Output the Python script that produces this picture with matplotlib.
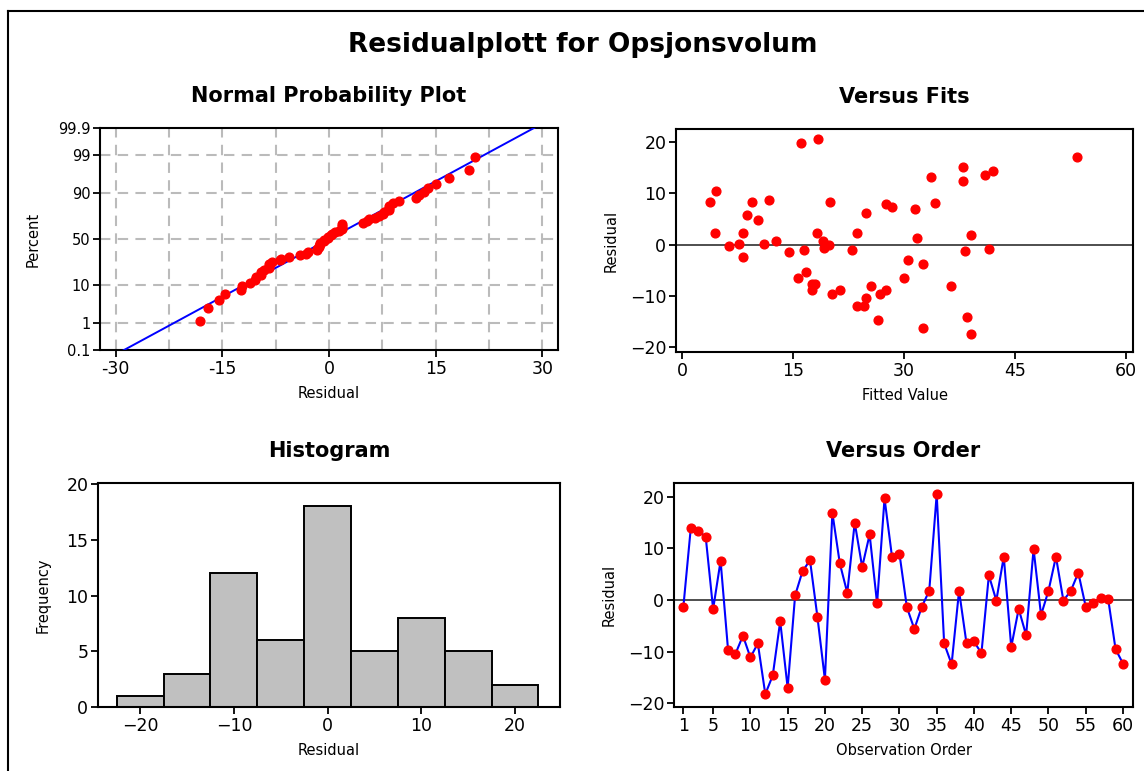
import numpy as np
import matplotlib
matplotlib.use("Agg")
import matplotlib.pyplot as plt
from matplotlib.lines import Line2D
from statistics import NormalDist

# ---------------- data ----------------
order_residuals = [-1.4, 13.9, 13.4, 12.3, -1.75, 7.6, -9.6, -10.4, -6.9, -11.1,
                   -8.4, -18.2, -14.6, -4.1, -17.0, 0.9, 5.6, 7.7, -3.3, -15.4,
                   16.9, 7.1, 1.4, 15.0, 6.4, 12.7, -0.65, 19.7, 8.4, 9.0,
                   -1.4, -5.6, -1.3, 1.8, 20.5, -8.4, -12.4, 1.8, -8.4, -8.0,
                   -10.3, 4.8, -0.1, 8.4, -9.1, -1.7, -6.8, 9.9, -2.9, 1.8,
                   8.4, -0.1, 1.8, 5.3, -1.3, -0.65, 0.4, 0.3, -9.5, -12.3]

fitted_values = [16.0, 18.4, 3.8, 4.6, 4.4, 6.3, 7.7, 8.2, 8.2, 8.7,
                 9.5, 10.3, 11.7, 11.1, 12.7, 14.4, 16.5, 15.7, 16.8, 17.5,
                 17.9, 17.6, 18.2, 19.0, 19.2, 19.9, 20.0, 20.3, 21.4, 23.0,
                 23.6, 23.6, 24.6, 24.9, 24.9, 25.5, 26.5, 26.8, 27.6, 27.6,
                 28.4, 30.0, 30.5, 53.4, 38.0, 33.7, 38.0, 41.0, 42.1, 31.5,
                 34.2, 31.8, 39.1, 38.3, 41.5, 32.6, 36.4, 32.6, 38.6, 39.1]
fits_residuals = [19.9, 20.6, 8.4, 10.4, 2.2, -0.2, 0.2, 2.2, -2.5, 5.7,
                  8.4, 4.8, 8.8, 0.2, 0.7, -1.4, -1.0, -6.5, -5.3, -7.6,
                  -7.6, -8.8, 2.2, 0.7, -0.6, -0.1, 8.4, -9.7, -8.8, -1.0,
                  2.2, -12.0, -12.0, -10.4, 6.1, -8.1, -14.7, -9.7, -8.8, 8.0,
                  7.3, -6.5, -2.9, 17.1, 15.2, 13.2, 12.4, 13.6, 14.4, 6.9,
                  8.1, 1.4, 1.8, -1.3, -0.9, -3.7, -8.0, -16.2, -14.2, -17.5]

hist_centers = [-20, -15, -10, -5, 0, 5, 10, 15, 20]
hist_counts = [1, 3, 12, 6, 18, 5, 8, 5, 2]

prob_ticks = [0.1, 1, 10, 50, 90, 99, 99.9]
prob_labels = ["0.1", "1", "10", "50", "90", "99", "99.9"]

plt.rcParams['font.family'] = ['DejaVu Sans']

W, H = 1144, 771
fig = plt.figure(figsize=(W / 100, H / 100), dpi=100)
fig.patch.set_facecolor('white')


def ax_px(l, r, t, b):
    return fig.add_axes([l / W, 1 - b / H, (r - l) / W, (b - t) / H])


def style(ax, tick_fs=12.5):
    for s in ax.spines.values():
        s.set_linewidth(1.5)
        s.set_color('black')
    ax.tick_params(direction='out', length=5, width=1.3, labelsize=tick_fs,
                   colors='black', pad=2)


RED = '#ff0000'
BLUE = '#0000ff'
TITLE_FS = 15
TITLE_PAD = 18.5
LABEL_FS = 10.5

# figure border
fig.add_artist(Line2D([8 / W, 8 / W], [0, 1 - 11 / H], transform=fig.transFigure,
                      color='black', lw=1.5))
fig.add_artist(Line2D([8 / W, 1], [1 - 11 / H, 1 - 11 / H], transform=fig.transFigure,
                      color='black', lw=1.5))

fig.text(583 / W, 1 - 45 / H, "Residualplott for Opsjonsvolum", ha='center',
         va='center', fontsize=19, fontweight='bold')

# ---------------- Normal probability plot ----------------
nd = NormalDist()
ax1 = ax_px(100, 558, 128, 350)
res_sorted = np.sort(np.array(order_residuals))
n = len(res_sorted)
ranks = (np.arange(1, n + 1) - 0.3) / (n + 0.4)
zq = np.array([nd.inv_cdf(p) for p in ranks])
zlo, zhi = nd.inv_cdf(0.001), nd.inv_cdf(0.999)
mu, sd = res_sorted.mean(), res_sorted.std(ddof=1)
zline = np.linspace(zlo - 0.2, zhi + 0.2, 50)
ax1.plot(mu + sd * zline, zline, color=BLUE, lw=1.4, zorder=3)
ax1.plot(res_sorted, zq, 'o', color=RED, ms=6.3, zorder=4, clip_on=False)
ax1.set_xlim(-32.2, 32.2)
ax1.set_ylim(zlo, zhi)
ax1.set_yticks([nd.inv_cdf(p / 100) for p in prob_ticks])
ax1.set_yticklabels(prob_labels)
ax1.set_xticks([-30, -15, 0, 15, 30])
ax1.set_xticklabels(["-30", "-15", "0", "15", "30"])
for gx in np.arange(-30, 30.1, 7.5):
    ax1.axvline(gx, color='#bbbbbb', lw=1.5, ls=(0, (5, 3.5)), zorder=1)
for p in [1, 10, 50, 90, 99]:
    ax1.axhline(nd.inv_cdf(p / 100), color='#bbbbbb', lw=1.5, ls=(0, (5, 3.5)), zorder=1)
style(ax1)
ax1.tick_params(axis='y', labelsize=10.5)
ax1.set_xlabel("Residual", fontsize=LABEL_FS, labelpad=6)
ax1.set_ylabel("Percent", fontsize=LABEL_FS, labelpad=12.5)
ax1.set_title("Normal Probability Plot", fontsize=TITLE_FS, fontweight='bold', pad=TITLE_PAD)

# ---------------- Versus Fits ----------------
ax2 = ax_px(676, 1133, 129, 352)
ax2.axhline(0, color='#404040', lw=1.3, zorder=1)
ax2.plot(fitted_values, fits_residuals, 'o', color=RED, ms=6.3, zorder=3, ls='none')
ax2.set_xlim(-0.85, 61)
ax2.set_ylim(-20.97, 22.6)
ax2.set_xticks([0, 15, 30, 45, 60])
ax2.set_yticks([-20, -10, 0, 10, 20])
style(ax2)
ax2.set_xlabel("Fitted Value", fontsize=LABEL_FS, labelpad=6)
ax2.set_ylabel("Residual", fontsize=LABEL_FS, labelpad=8)
ax2.set_title("Versus Fits", fontsize=TITLE_FS, fontweight='bold', pad=TITLE_PAD)

# ---------------- Histogram ----------------
ax3 = ax_px(98, 560, 483, 707)
ax3.bar(hist_centers, hist_counts, width=5, color='#c0c0c0', edgecolor='black',
        linewidth=1.4, zorder=2)
ax3.set_xlim(-24.5, 24.8)
ax3.set_ylim(0, 20.1)
ax3.set_xticks([-20, -10, 0, 10, 20])
ax3.set_yticks([0, 5, 10, 15, 20])
style(ax3)
ax3.set_xlabel("Residual", fontsize=LABEL_FS, labelpad=6)
ax3.set_ylabel("Frequency", fontsize=LABEL_FS, labelpad=11.5)
ax3.set_title("Histogram", fontsize=TITLE_FS, fontweight='bold', pad=TITLE_PAD)

# ---------------- Versus Order ----------------
ax4 = ax_px(674, 1133, 483, 707)
obs = np.arange(1, len(order_residuals) + 1)
ax4.axhline(0, color='#404040', lw=1.3, zorder=1)
ax4.plot(obs, order_residuals, '-', color=BLUE, lw=1.5, zorder=2)
ax4.plot(obs, order_residuals, 'o', color=RED, ms=6.3, zorder=3)
ax4.set_xlim(-0.25, 61.34)
ax4.set_ylim(-20.7, 22.67)
ax4.set_xticks([1, 5, 10, 15, 20, 25, 30, 35, 40, 45, 50, 55, 60])
ax4.set_yticks([-20, -10, 0, 10, 20])
style(ax4)
ax4.set_xlabel("Observation Order", fontsize=LABEL_FS, labelpad=6)
ax4.set_ylabel("Residual", fontsize=LABEL_FS, labelpad=8)
ax4.set_title("Versus Order", fontsize=TITLE_FS, fontweight='bold', pad=TITLE_PAD)

fig.savefig("out.png", dpi=100, facecolor='white')
